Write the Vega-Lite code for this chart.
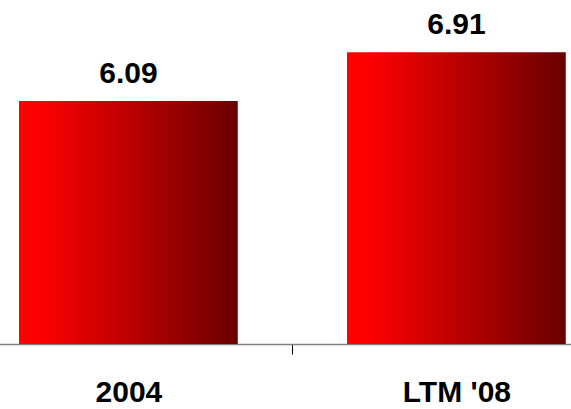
{
  "$schema": "https://vega.github.io/schema/vega-lite/v6.json",
  "width": 571,
  "height": 344,
  "autosize": {"type": "none"},
  "padding": {"left": 0, "top": 0, "right": 0, "bottom": 65},
  "background": "white",
  "config": {"view": {"stroke": null}},
  "data": {"values": [
    {"period": "2004", "value": 6.09},
    {"period": "LTM '08", "value": 6.91}
  ]},
  "encoding": {
    "x": {
      "field": "period",
      "type": "nominal",
      "sort": null,
      "scale": {"range": [-35.6, 620.4], "paddingInner": 0.333, "paddingOuter": 0.1665},
      "axis": {
        "title": null,
        "labelAngle": 0,
        "labelFont": "Liberation Sans",
        "labelFontWeight": "bold",
        "labelFontSize": 30,
        "labelColor": "black",
        "labelBaseline": "alphabetic",
        "labelPadding": 47,
        "tickOffset": 164,
        "labelOffset": -164,
        "tickSize": 10,
        "tickColor": "black",
        "tickWidth": 1,
        "domainColor": "#808080",
        "domainWidth": 1.5,
        "grid": false
      }
    },
    "y": {
      "field": "value",
      "type": "quantitative",
      "scale": {"domain": [2, 7.79], "zero": false, "nice": false},
      "axis": null
    }
  },
  "layer": [
    {
      "mark": {
        "type": "bar",
        "clip": true,
        "color": {
          "gradient": "linear",
          "x1": 0, "y1": 0, "x2": 1, "y2": 0,
          "stops": [
            {"offset": 0, "color": "#ff0000"},
            {"offset": 0.12, "color": "#fa0000"},
            {"offset": 1, "color": "#6a0000"}
          ]
        }
      }
    },
    {
      "mark": {
        "type": "text",
        "font": "Liberation Sans",
        "fontWeight": "bold",
        "fontSize": 30,
        "baseline": "alphabetic",
        "dy": -18,
        "color": "black"
      },
      "encoding": {"text": {"field": "value", "type": "quantitative", "format": ".2f"}}
    }
  ]
}
